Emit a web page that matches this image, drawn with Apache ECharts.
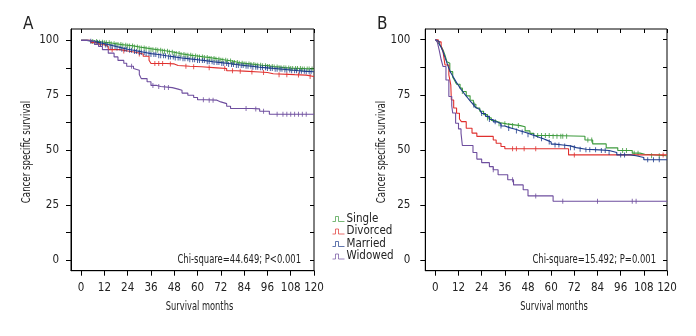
<!DOCTYPE html>
<html><head><meta charset="utf-8">
<script src="https://cdn.jsdelivr.net/npm/echarts@6/dist/echarts.min.js"></script>
<style>html,body{margin:0;padding:0;background:#fff}#c{width:696px;height:336px}</style>
</head><body><div id="c"></div>
<script>
// ---- data ----
var groups = ['Single', 'Divorced', 'Married', 'Widowed'];
var xTicks = [0, 12, 24, 36, 48, 60, 72, 84, 96, 108, 120];
var yTicks = [0, 12.5, 25, 37.5, 50, 62.5, 75, 87.5, 100];
var yLabels = [0, 25, 50, 75, 100];
var chiA = 'Chi-square=44.649; P<0.001';
var chiB = 'Chi-square=15.492; P=0.001';

// Panel A curves [month, survival %]
var A_single = [[0,100],[3,99.8],[6,99.5],[9,99.2],[12,98.9],[15,98.5],[18,98.1],[21,97.8],[24,97.5],[27,97.0],[30,96.6],[33,96.2],[36,95.8],[39,95.5],[42,95.1],[45,94.6],[48,94.0],[51,93.6],[54,93.2],[57,92.9],[60,92.5],[63,92.2],[66,91.8],[69,91.4],[72,91.0],[75,90.6],[78,89.9],[81,89.6],[84,89.3],[87,89.0],[90,88.7],[93,88.5],[96,88.1],[99,87.9],[102,87.6],[105,87.4],[108,87.2],[114,87.0],[120,86.8]];
var A_divorced = [[0,100],[5,99.0],[9,98.0],[12,97.2],[14,95.8],[20,95.2],[24,94.6],[28,93.8],[32,92.8],[35,91.0],[36,89.5],[44,89.3],[48,88.6],[50,88.2],[56,88.0],[62,87.5],[70,87.2],[75,86.2],[80,86.0],[84,85.6],[92,85.4],[96,84.8],[99,84.4],[110,84.2],[116,83.6],[120,83.3]];
var A_married = [[0,100],[3,99.6],[6,99.1],[9,98.5],[12,97.9],[15,97.2],[18,96.6],[21,96.0],[24,95.5],[27,95.0],[30,94.5],[33,94.0],[36,93.6],[40,93.0],[44,92.5],[48,92.0],[52,91.6],[56,91.2],[60,90.8],[64,90.3],[68,89.9],[72,89.5],[76,89.0],[80,88.6],[84,88.2],[88,87.8],[92,87.5],[96,87.2],[100,86.9],[104,86.5],[108,86.2],[112,85.9],[116,85.7],[120,85.5]];
var A_widowed = [[0,100],[4,99.5],[7,98.2],[9,97.2],[11,95.8],[14,94.2],[17,92.5],[19,90.9],[22,89.6],[23.5,88.2],[27,87.2],[28,86.4],[30,84.5],[31,82.6],[34,81.2],[36,79.5],[39,79.0],[41,78.5],[47,77.8],[50,77.3],[52,76.0],[55,75.0],[58,74.0],[60,73.0],[64,72.8],[70,72.0],[72,71.2],[75,70.0],[77,69.0],[88,68.8],[92,67.7],[97,66.4],[120,66.4]];

// Panel A censor months
var A_single_c = [6,8,9.5,11,12,13,14.5,15.5,17,18,19,20.5,21.5,23,24,25,26.5,27.5,29,30,31,32.5,33.5,35,36,37,38.5,39.5,41,42,43,44.5,45.5,47,48,49,50.5,51.5,53,54,55,56.5,57.5,59,60,61,62.5,63.5,65,66,67,68.5,69.5,71,72,73,74.5,75.5,77,78,79,80.5,81.5,83,84,85,86.5,87.5,89,90,91,92.5,93.5,95,96,97,98.5,99.5,101,102,103,104.5,105.5,107,108,109,110.5,111.5,113,114,115,116.5,117.5,119];
var A_divorced_c = [16,22,30,38,40,42,46,54,58,66,74,78,82,88,94,102,106,112,118];
var A_married_c = [5,7,8.5,10,11,12.5,13.5,15,16,17.5,18.5,20,21,22.5,23.5,25,26,27.5,28.5,30,31,32.5,33.5,35,36,37.5,38.5,40,41,42.5,43.5,45,46,47.5,48.5,50,51,52.5,53.5,55,56,57.5,58.5,60,61,62.5,63.5,65,66,67.5,68.5,70,71,72.5,73.5,75,76,77.5,78.5,80,81,82.5,83.5,85,86,87.5,88.5,90,91,92.5,93.5,95,96,97.5,98.5,100,101,102.5,103.5,105,106,107.5,108.5,110,111,112.5,113.5,115,116,117.5,118.5];
var A_widowed_c = [26,37,40,43,45,63,66,68,85,90,94,101,104,106,108,110,112,114,116];

// Panel B curves
var B_single = [[0,100],[1,99],[2,98],[3,97],[4,95.3],[5,93],[6,90],[6.7,89.3],[7.5,85.5],[9,83],[10,81.5],[11,79.8],[12.8,78],[14,76.5],[16,74.5],[18,72.5],[19.7,70.7],[21,69],[23,67.5],[25,66],[27,64.5],[29,63.3],[31,62.4],[33,61.8],[37,61],[44,60.5],[46.5,58.6],[49,57.5],[51,56.5],[60,56.2],[77.5,54.5],[81.5,52.7],[88.5,50.9],[94.5,49.7],[102,48.5],[106,48],[108.5,47.3],[120,47.3]];
var B_divorced = [[0,100],[1.5,99],[3,97],[4,94.5],[5,88.5],[7,84],[8,79.5],[8.3,72.6],[9.5,69],[11,66.6],[12.5,64],[13.5,62.8],[16,59.8],[19,57.6],[21.5,56.1],[30,54.5],[31.5,53],[34,51.5],[36,50.5],[69,47.7],[120,47.7]];
var B_married = [[0,100],[1,99.2],[2,98],[3,96.5],[4,94.5],[5,92],[6,89.5],[7,87],[8,85],[9,83.5],[10,82],[11,80.5],[12,79.2],[13,77.8],[14,76.7],[15,75.5],[16,74.4],[17,73.3],[18,72.2],[19,71.2],[20,70.2],[21,69.2],[22,68.3],[23,67.4],[24,66.5],[26,65.2],[28,63.8],[30,62.7],[32,61.8],[34,60.8],[36,60.2],[38,59.7],[40,59.2],[42,58.6],[44,58.1],[46,57.5],[48,56.9],[50,56.3],[52,55.6],[54,55],[56,54.3],[58,53.6],[60,52.6],[62,52.2],[66,51.8],[70,51],[73,50.3],[78,50],[85,49.7],[90,48.8],[94,47.7],[101,47.3],[104,46.5],[108,45.5],[120,45.3]];
var B_widowed = [[0,100],[1,99],[2,95.3],[3,91],[4,87.8],[5.5,81.7],[7,74.2],[8.5,70],[9,66.7],[10.5,62.1],[12,59.5],[13.3,57.6],[14,52],[19.5,48.8],[21.5,45.8],[24,44.2],[28,42.4],[30,41],[32.5,38.7],[37.5,36.4],[40.5,34.1],[45.5,31.9],[48,29.1],[61,26.7],[120,26.7]];

// Panel B censor months
var B_single_c = [14,20,27,33,36,38,40,43,53,55,57,59,61,63,65,66,68,79,81,97,99,103,105,112,116];
var B_divorced_c = [40,42,46,52,72,118];
var B_married_c = [20,24,28,31,34,38,42,45,48,51,55,59,62,64,67,70,72,75,78,80,83,86,88,90,96,98,110,113,116];
var B_widowed_c = [30,40,52,66,84,102,104];

// ---- rendering ----
var colors = ['#3c9a3c', '#e0302e', '#1e3c8c', '#6e4e9e'];
var FONT = '"Liberation Sans Narrow","DejaVu Sans Condensed","Roboto",sans-serif';
var TXT = '#222';

function stepAt(curve, m) {
  var v = curve[0][1];
  for (var i = 0; i < curve.length; i++) { if (curve[i][0] <= m) v = curve[i][1]; else break; }
  return v;
}
function censorPts(curve, months) { return months.map(function (m) { return [m, stepAt(curve, m)]; }); }

var panels = [
  { curves: [A_single, A_divorced, A_married, A_widowed], cens: [A_single_c, A_divorced_c, A_married_c, A_widowed_c],
    grid: { left: 71, top: 29, width: 243, height: 241.7 }, xmin: -5.2, ymin: -4.9, ymax: 105.2, ylm: 12 },
  { curves: [B_single, B_divorced, B_married, B_widowed], cens: [B_single_c, B_divorced_c, B_married_c, B_widowed_c],
    grid: { left: 425.3, top: 29, width: 241.7, height: 241.7 }, xmin: -5.2, ymin: -4.85, ymax: 104.85, ylm: 15 }
];

var grids = [], xAxes = [], yAxes = [], series = [];
panels.forEach(function (p, pi) {
  grids.push(Object.assign({ show: true, borderColor: '#000', borderWidth: 1, backgroundColor: 'transparent' }, p.grid));
  var base = { type: 'value', gridIndex: pi, splitLine: { show: false } };
  xAxes.push(Object.assign({}, base, { position: 'bottom', min: p.xmin, max: 120,
    axisLine: { show: true, onZero: false, lineStyle: { color: '#000', width: 1 } },
    axisTick: { show: true, length: 5, inside: false, customValues: xTicks, lineStyle: { color: '#000' } },
    axisLabel: { show: true, customValues: xTicks, margin: 11.5, fontSize: 11.5, color: TXT, fontFamily: FONT } }));
  xAxes.push(Object.assign({}, base, { position: 'top', min: p.xmin, max: 120,
    axisLine: { show: false, onZero: false },
    axisTick: { show: true, length: 4, inside: true, customValues: xTicks, lineStyle: { color: '#000' } },
    axisLabel: { show: false } }));
  yAxes.push(Object.assign({}, base, { position: 'left', min: p.ymin, max: p.ymax,
    axisLine: { show: true, onZero: false, lineStyle: { color: '#000', width: 1 } },
    axisTick: { show: true, length: 5, inside: false, customValues: yTicks, lineStyle: { color: '#000' } },
    axisLabel: { show: true, customValues: yLabels, margin: p.ylm, fontSize: 11.5, color: TXT, fontFamily: FONT } }));
  yAxes.push(Object.assign({}, base, { position: 'right', min: p.ymin, max: p.ymax,
    axisLine: { show: false, onZero: false },
    axisTick: { show: true, length: 4, inside: true, customValues: yTicks, lineStyle: { color: '#000' } },
    axisLabel: { show: false } }));
  p.curves.forEach(function (c, gi) {
    series.push({ type: 'line', name: groups[gi], step: 'end', xAxisIndex: pi * 2, yAxisIndex: pi * 2,
      data: c, showSymbol: false, symbol: 'none', color: colors[gi],
      lineStyle: { color: colors[gi], width: 1.1 }, z: 3 + gi, silent: true });
    series.push({ type: 'scatter', name: groups[gi], xAxisIndex: pi * 2, yAxisIndex: pi * 2,
      data: censorPts(c, p.cens[gi]), symbol: 'rect', symbolSize: [1, 5], color: colors[gi],
      itemStyle: { color: colors[gi] }, z: 3 + gi, silent: true });
  });
});

function txt(x, y, s, opts, align) {
  return Object.assign({ type: 'text', x: x, y: y, style: { text: s, fontSize: 12, fill: TXT, fontFamily: FONT, align: align || 'center', verticalAlign: 'middle' } }, opts || {});
}

var chart = echarts.init(document.getElementById('c'), null, { renderer: 'canvas' });
chart.setOption({
  animation: false,
  backgroundColor: '#fff',
  grid: grids, xAxis: xAxes, yAxis: yAxes, series: series,
  legend: {
    data: groups.map(function (g, i) { return { name: g, itemStyle: { color: 'rgba(0,0,0,0)', borderColor: colors[i], borderWidth: 1, opacity: 0.7 } }; }),
    orient: 'vertical', left: 327, top: 208, itemWidth: 12, itemHeight: 5, itemGap: 0.5,
    symbolKeepAspect: false,
    icon: 'path://M0,5 L3,5 L3,0 L6,0 L6,5 L12,5',
    textStyle: { fontSize: 11.5, lineHeight: 11, color: TXT, fontFamily: FONT, padding: [0, 0, 0, -3] },
    selectedMode: false
  },
  graphic: [
    { type: 'text', left: 23, top: 16, style: { text: 'A', fontSize: 17, fill: TXT, fontFamily: FONT } },
    { type: 'text', left: 377, top: 16, style: { text: 'B', fontSize: 17, fill: TXT, fontFamily: FONT } },
    txt(301, 260, chiA, { scaleX: 0.78 }, 'right'),
    txt(656, 260, chiB, { scaleX: 0.78 }, 'right'),
    txt(199.5, 307, 'Survival months', { scaleX: 0.77 }),
    txt(554, 307, 'Survival months', { scaleX: 0.77 }),
    txt(27, 152, 'Cancer specific survival', { rotation: Math.PI / 2, scaleX: 0.8 }),
    txt(382, 152, 'Cancer specific survival', { rotation: Math.PI / 2, scaleX: 0.8 })
  ]
});
</script></body></html>
